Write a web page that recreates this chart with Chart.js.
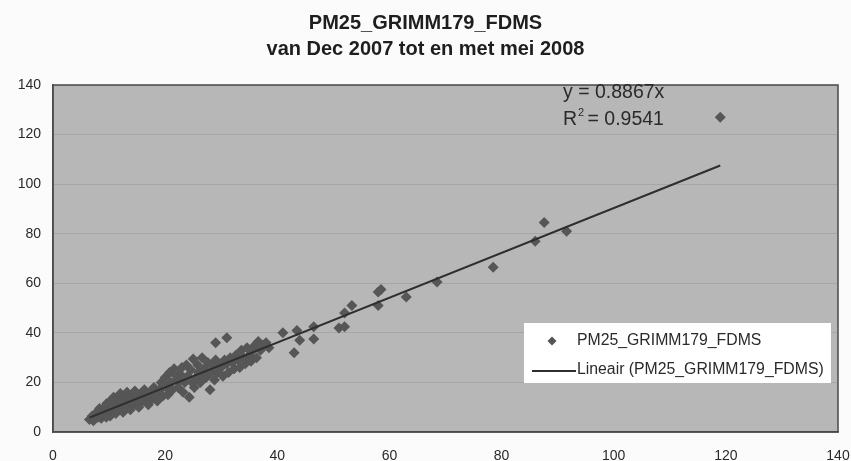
<!DOCTYPE html>
<html>
<head>
<meta charset="utf-8">
<script src="https://cdn.jsdelivr.net/npm/chart.js@4.4.0/dist/chart.umd.min.js"></script>
<style>
  html, body { margin: 0; padding: 0; background: #fbfbfb; }
  #wrap { width: 851px; height: 461px; position: relative; }
</style>
</head>
<body>
<div id="wrap"><canvas id="grafica"></canvas></div>
<script>
// titels en teksten
const titelRegels = ["PM25_GRIMM179_FDMS", "van Dec 2007 tot en met mei 2008"];
const reeksNaam = "PM25_GRIMM179_FDMS";
const trendNaam = "Lineair (PM25_GRIMM179_FDMS)";
const vergelijking = "y = 0.8867x";
const rKwadraat = "0.9541";

// as-instellingen
const xTicks = [0, 20, 40, 60, 80, 100, 120, 140];
const yTicks = [0, 20, 40, 60, 80, 100, 120, 140];

// meetpunten (GRIMM op x, FDMS op y)
const puntX = [
  6.5, 7, 7.2, 7.8, 8, 8.3, 8.6, 9, 9.2, 9.5, 9.8, 10, 10.2, 10.5, 10.8, 11, 11.2, 11.5, 11.8, 12,
  12.2, 12.5, 12.8, 13, 13.2, 13.5, 13.8, 14, 14.3, 14.6, 15, 15.3, 15.6, 16, 16.3, 16.6, 17, 17.3, 17.6, 18,
  18.3, 18.6, 19, 19.3, 19.6, 20, 20.2, 20.5, 20.8, 21, 21.3, 21.6, 22, 22.3, 22.6, 23, 23.2, 23.5, 23.8, 24,
  24.3, 24.6, 25, 25.2, 25.5, 25.8, 26, 26.3, 26.6, 27, 27.3, 27.6, 28, 28.2, 28.5, 28.8, 29, 29.3, 29.6, 30,
  30.3, 30.6, 31, 31.3, 31.6, 32, 32.3, 32.6, 33, 33.3, 33.6, 34, 34.3, 34.6, 35, 35.3, 35.6, 36, 36.3, 36.6,
  37, 37.4, 38, 38.5, 8.8, 9.6, 10.6, 11.6, 12.6, 13.6, 14.8, 15.8, 16.8, 18.8, 19.8, 21.8, 22.8, 24.8, 26.8, 27.8,
  29, 31, 41, 43.5, 44, 43, 46.5, 46.5, 51, 52, 52, 53.3, 58, 58.5, 58, 63, 68.5, 78.5, 86, 87.6,
  91.6, 119
];
const puntY = [
  5, 6.5, 4.5, 8, 6, 9.5, 5.5, 7.5, 10, 6, 8.5, 12, 6.5, 9, 14, 11, 7.5, 13, 9.5, 15.5,
  11, 8, 13.5, 10, 16, 12, 9, 14, 11.5, 16.5, 13, 10, 15, 12.5, 17, 14, 11, 16, 13, 18,
  15, 12.5, 17, 20, 14.5, 22, 18, 15, 24, 20, 17, 25.5, 21, 18, 23.5, 26, 16, 20, 27, 22.5,
  14, 25, 29.5, 18, 22, 27, 24, 20, 30, 25.5, 22, 28, 17, 24, 26.5, 21, 29, 24, 27, 26,
  22.5, 29, 27.5, 24, 30, 28, 25.5, 31, 29, 26, 33, 30, 27.5, 34, 31, 28.5, 33, 35, 30, 36.5,
  33, 35, 36, 34, 7, 11.5, 12.5, 12, 10.5, 14.5, 12, 14, 15, 16, 19, 23, 21, 20, 22, 23.5,
  36, 38, 40, 41, 37, 32, 42.5, 37.5, 42, 42.5, 48, 51, 56.5, 57.5, 51, 54.5, 60.5, 66.5, 77, 84.5,
  81, 127
];

const trendX = [6.5, 119];
const trendY = [5.8, 107.5];

const punten = puntX.map((x, i) => ({ x: x, y: puntY[i] }));
const trend = trendX.map((x, i) => ({ x: x, y: trendY[i] }));

const lettertype = "'Liberation Sans', Arial, sans-serif";

// grijze plotachtergrond met rand, vergelijking en legenda
const plotVlak = {
  id: "plotVlak",
  beforeDraw(chart) {
    const { ctx, chartArea: a } = chart;
    ctx.save();
    ctx.fillStyle = "#b7b7b7";
    ctx.fillRect(a.left, a.top, a.right - a.left, a.bottom - a.top);
    ctx.restore();
  },
  afterDraw(chart) {
    const { ctx, chartArea: a } = chart;
    ctx.save();
    ctx.strokeStyle = "#4a4a4a";
    ctx.lineWidth = 1.5;
    ctx.strokeRect(a.left, a.top, a.right - a.left, a.bottom - a.top);

    // vergelijking en R2
    ctx.fillStyle = "#2a2a2a";
    ctx.font = "19.5px " + lettertype;
    ctx.textBaseline = "middle";
    ctx.fillText(vergelijking, 563, 93);
    ctx.fillText("R", 563, 120);
    let w = ctx.measureText("R").width;
    ctx.font = "11px " + lettertype;
    ctx.fillText("2", 563 + w + 1, 113);
    ctx.font = "19.5px " + lettertype;
    ctx.fillText(" = " + rKwadraat, 563 + w + 5, 120);

    // legenda
    const lx = 524, ly = 323, lw = 307, lh = 60;
    ctx.fillStyle = "#ffffff";
    ctx.fillRect(lx, ly, lw, lh);
    ctx.fillStyle = "#555555";
    ctx.beginPath();
    ctx.moveTo(552, 336.5);
    ctx.lineTo(556.5, 341);
    ctx.lineTo(552, 345.5);
    ctx.lineTo(547.5, 341);
    ctx.closePath();
    ctx.fill();
    ctx.strokeStyle = "#2e2e2e";
    ctx.lineWidth = 2;
    ctx.beginPath();
    ctx.moveTo(532, 371);
    ctx.lineTo(576, 371);
    ctx.stroke();
    ctx.fillStyle = "#2a2a2a";
    ctx.font = "15.8px " + lettertype;
    ctx.fillText(reeksNaam, 577, 341);
    ctx.fillText(trendNaam, 577, 370);
    ctx.restore();
  }
};

const config = {
  type: "scatter",
  data: {
    datasets: [
      {
        label: reeksNaam,
        data: punten,
        pointStyle: "rectRot",
        pointRadius: 5.5,
        pointHoverRadius: 5.5,
        backgroundColor: "#565656",
        borderColor: "#565656",
        borderWidth: 0,
        order: 2
      },
      {
        type: "line",
        label: trendNaam,
        data: trend,
        borderColor: "#2e2e2e",
        borderWidth: 2,
        pointRadius: 0,
        fill: false,
        order: 1
      }
    ]
  },
  options: {
    responsive: true,
    maintainAspectRatio: false,
    animation: false,
    layout: { padding: { left: 0, right: 0, top: 0, bottom: 0 } },
    plugins: {
      legend: { display: false },
      tooltip: { enabled: false },
      title: {
        display: true,
        text: titelRegels,
        color: "#1e1e1e",
        font: { family: lettertype, size: 20, weight: "bold", lineHeight: 1.3 },
        padding: { top: 10, bottom: 23 }
      }
    },
    scales: {
      x: {
        type: "linear",
        min: 0,
        max: 140,
        afterBuildTicks(scale) { scale.ticks = xTicks.map(v => ({ value: v })); },
        afterFit(scale) {
          scale.height = 29;
          scale.paddingRight = 13;
          scale.paddingLeft = 0;
        },
        grid: { display: false, drawTicks: false },
        border: { display: true, color: "#4a4a4a", width: 1.5 },
        ticks: { padding: 16, color: "#2a2a2a", font: { family: lettertype, size: 14 } }
      },
      y: {
        type: "linear",
        min: 0,
        max: 140,
        afterBuildTicks(scale) { scale.ticks = yTicks.map(v => ({ value: v })); },
        afterFit(scale) { scale.width = 53; },
        grid: { color: "rgba(110,110,110,0.22)", drawTicks: false, lineWidth: 1 },
        border: { display: true, color: "#4a4a4a", width: 1.5 },
        ticks: { padding: 12, color: "#2a2a2a", font: { family: lettertype, size: 14 } }
      }
    }
  },
  plugins: [plotVlak]
};

new Chart(document.getElementById("grafica").getContext("2d"), config);
</script>
</body>
</html>
